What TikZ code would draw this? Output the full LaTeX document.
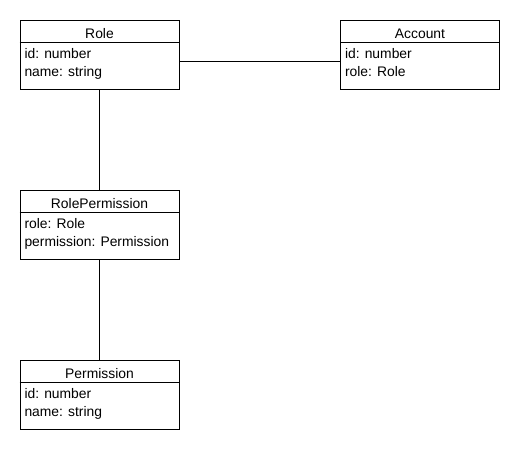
\documentclass[tikz,border=0pt]{standalone}
\usepackage{fontspec}
\setmainfont{Liberation Sans}
\usetikzlibrary{positioning}

\begin{document}
\begin{tikzpicture}[x=0.75pt, y=-0.75pt, line width=0.75pt,
  classbox/.style={draw, minimum width=119.25pt, minimum height=51.75pt, inner sep=0pt},
  classname/.style={inner sep=0pt, anchor=base, font=\fontsize{10.4}{13.5}\selectfont},
  classattrs/.style={inner sep=0pt, anchor=north west, align=left, font=\fontsize{10.4}{13.5}\selectfont}]
  \useasboundingbox (0,0) rectangle (520,450);

  % class boxes
  \node[classbox] (role)     at (99.5,54.5)  {}; % top-left
  \node[classbox] (account)  at (420,54.5)   {}; % top-right
  \node[classbox] (roleperm) at (99.5,224.5) {}; % middle
  \node[classbox] (perm)     at (99.5,394.5) {}; % bottom

  % names
  \node[classname] (role-name)     at (99.5,38)  {Role};
  \node[classname] (account-name)  at (420,38)   {Account};
  \node[classname] (roleperm-name) at (99.5,208) {RolePermission};
  \node[classname] (perm-name)     at (99.5,378) {Permission};

  % header lines
  \foreach \c in {role,account,roleperm,perm}
    \draw ([yshift=-17.25pt]\c.north west) -- ([yshift=-17.25pt]\c.north east);

  % attributes
  \node[classattrs] (role-attrs)     at (24,48)    {id: number\\name: string};
  \node[classattrs] (account-attrs)  at (344.5,48) {id: number\\role: Role};
  \node[classattrs] (roleperm-attrs) at (24,218)   {role: Role\\permission: Permission};
  \node[classattrs] (perm-attrs)     at (24,388)   {id: number\\name: string};

  % associations
  \draw ([yshift=-4.875pt]role.east) -- ([yshift=-4.875pt]account.west); % role -- account
  \draw (role.south) -- (roleperm.north);     % role -- rolepermission
  \draw (roleperm.south) -- (perm.north);     % rolepermission -- permission
\end{tikzpicture}
\end{document}
